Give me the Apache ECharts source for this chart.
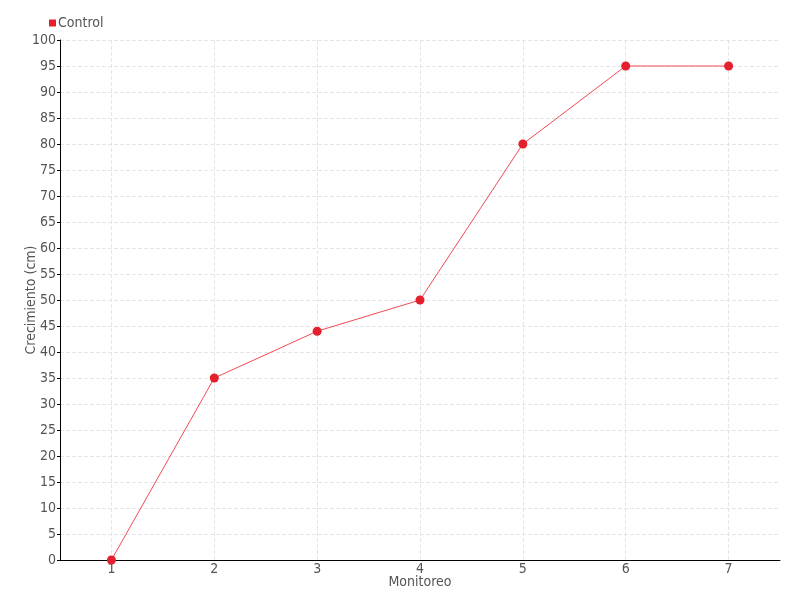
<!DOCTYPE html>
<html>
<head>
<meta charset="utf-8">
<script src="https://cdn.jsdelivr.net/npm/echarts@6/dist/echarts.min.js"></script>
<style>html,body{margin:0;padding:0;background:#fff;}#c{width:800px;height:600px;}</style>
</head>
<body>
<div id="c"></div>
<script>
var categories = ['1', '2', '3', '4', '5', '6', '7'];
var controlValues = [0, 35, 44, 50, 80, 95, 95];
var seriesName = 'Control';
var xAxisName = 'Monitoreo';
var yAxisName = 'Crecimiento (cm)';

var FONT = "'Liberation Sans Narrow', 'DejaVu Sans Condensed', sans-serif";
var chart = echarts.init(document.getElementById('c'));
chart.setOption({
  animation: false,
  textStyle: { fontFamily: FONT },
  legend: {
    left: 44, top: 11, itemWidth: 7, itemHeight: 7, itemGap: 4,
    icon: 'rect',
    textStyle: { fontFamily: FONT, fontSize: 14, color: '#555', padding: [0,0,0,-3] },
    data: [seriesName]
  },
  grid: { left: 60, right: 20, top: 40, bottom: 40 },
  xAxis: {
    type: 'category', data: categories, boundaryGap: true,
    name: xAxisName, nameLocation: 'middle', nameGap: 15, nameMoveOverlap: false,
    nameTextStyle: { fontFamily: FONT, fontSize: 14, color: '#555' },
    axisLine: { lineStyle: { color: '#000', width: 1 } },
    axisTick: { alignWithLabel: true, length: 4, lineStyle: { color: '#000' } },
    axisLabel: { fontFamily: FONT, fontSize: 14, color: '#555', margin: 2 },
    splitLine: { show: false }
  },
  yAxis: {
    type: 'value', min: 0, max: 100, interval: 5,
    name: yAxisName, nameLocation: 'middle', nameGap: 22, nameMoveOverlap: false,
    nameTextStyle: { fontFamily: FONT, fontSize: 14, color: '#555' },
    axisLine: { show: true, lineStyle: { color: '#000', width: 1 } },
    axisTick: { show: true, length: 3, lineStyle: { color: '#000' } },
    axisLabel: { fontFamily: FONT, fontSize: 14, color: '#555', margin: 4 },
    splitLine: { show: true, lineStyle: { color: '#e6e6e6', type: 'dashed' } }
  },
  series: [{
    name: seriesName, type: 'line', data: controlValues,
    symbol: 'circle', symbolSize: 9, z: 3,
    itemStyle: { color: '#e3202c' },
    lineStyle: { color: '#f24a52', width: 1 },
    markLine: {
      silent: true, symbol: 'none', z: 1,
      label: { show: false },
      lineStyle: { color: '#e6e6e6', type: 'dashed', width: 1 },
      data: categories.map(function (c) { return { xAxis: c }; })
    }
  }]
});
</script>
</body>
</html>
